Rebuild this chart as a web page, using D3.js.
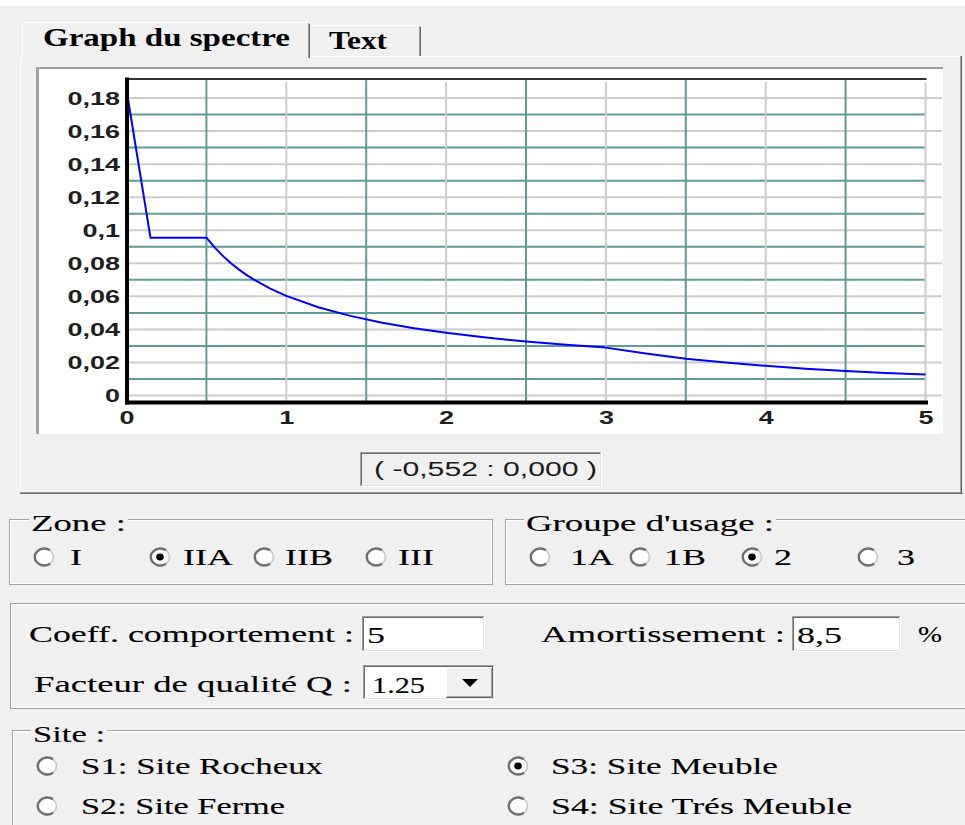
<!DOCTYPE html>
<html>
<head>
<meta charset="utf-8">
<script src="https://cdn.jsdelivr.net/npm/d3@7"></script>
<style>
  html, body { margin: 0; padding: 0; background: #f0f0f0; }
  svg { display: block; }
</style>
</head>
<body>
<script>
// ---------- DATA ----------
const periods  = [0, 0.15, 0.5, 0.55, 0.6, 0.65, 0.7, 0.75, 0.8, 0.9, 1.0, 1.2, 1.4, 1.6, 1.8, 2.0, 2.25, 2.5, 2.75, 3.0, 3.25, 3.5, 3.75, 4.0, 4.25, 4.5, 4.75, 5.0];
const spectrum = [0.185, 0.0955, 0.0955, 0.0898, 0.0848, 0.0803, 0.0765, 0.0730, 0.0700, 0.0647, 0.0603, 0.0534, 0.0482, 0.0441, 0.0407, 0.0380, 0.0351, 0.0327, 0.0307, 0.0290, 0.0254, 0.0222, 0.0200, 0.0180, 0.0162, 0.0148, 0.0136, 0.0127];
const xTicks = [0, 1, 2, 3, 4, 5];
const xTickLabels = ["0", "1", "2", "3", "4", "5"];
const xMinor = [0.5, 1.5, 2.5, 3.5, 4.5];
const yTicks = [0, 0.02, 0.04, 0.06, 0.08, 0.1, 0.12, 0.14, 0.16, 0.18];
const yTickLabels = ["0", "0,02", "0,04", "0,06", "0,08", "0,1", "0,12", "0,14", "0,16", "0,18"];
const yMinor = [0.01, 0.03, 0.05, 0.07, 0.09, 0.11, 0.13, 0.15, 0.17];
const tabLabels = ["Graph du spectre", "Text"];
const cursorLabel = "( -0,552 : 0,000 )";
const zoneOptions = ["I", "IIA", "IIB", "III"];
const zoneChecked = "IIA";
const groupOptions = ["1A", "1B", "2", "3"];
const groupChecked = "2";
const siteOptions = ["S1: Site Rocheux", "S3: Site Meuble", "S2: Site Ferme", "S4: Site Trés Meuble"];
const siteChecked = "S3: Site Meuble";

// ---------- helpers ----------
const W = 965, H = 825;
const svg = d3.select("body").append("svg").attr("width", W).attr("height", H);
const SERIF = "'Liberation Serif','Times New Roman',serif";
const SANS = "'Liberation Sans',Arial,sans-serif";
const K = 1.5;

function T(parent, x, y, str, o = {}) {
  const t = parent.append("text").attr("x", x).attr("y", y).text(str)
    .attr("font-family", o.family || SERIF)
    .attr("font-size", o.size || 24)
    .attr("font-weight", o.weight || "normal")
    .attr("fill", o.fill || "#000")
    .attr("stroke", o.fill || "#000").attr("stroke-width", o.sw === undefined ? 0.12 : o.sw);
  const w = t.node().getComputedTextLength();
  const target = o.w || w * (o.k || K);
  t.attr("textLength", target).attr("lengthAdjust", "spacingAndGlyphs");
  if (o.anchor === "end") t.attr("x", x - target);
  if (o.anchor === "middle") t.attr("x", x - target / 2);
  return t;
}
function line(g, x1, y1, x2, y2, c, w) {
  g.append("line").attr("x1", x1).attr("y1", y1).attr("x2", x2).attr("y2", y2)
    .attr("stroke", c).attr("stroke-width", w || 1);
}
function sunken(g, x, y, w, h, fill) {
  g.append("rect").attr("x", x).attr("y", y).attr("width", w).attr("height", h).attr("fill", fill);
  line(g, x, y + 0.5, x + w, y + 0.5, "#a0a0a0", 1);
  line(g, x + 0.5, y, x + 0.5, y + h, "#a0a0a0", 1);
  line(g, x + 1, y + 1.5, x + w - 1, y + 1.5, "#696969", 1);
  line(g, x + 1.5, y + 1, x + 1.5, y + h - 1, "#696969", 1);
  line(g, x, y + h - 0.5, x + w, y + h - 0.5, "#ffffff", 1);
  line(g, x + w - 0.5, y, x + w - 0.5, y + h, "#ffffff", 1);
  line(g, x + 1, y + h - 1.5, x + w - 1, y + h - 1.5, "#e3e3e3", 1);
  line(g, x + w - 1.5, y + 1, x + w - 1.5, y + h - 1, "#e3e3e3", 1);
}
function raised(g, x, y, w, h) {
  g.append("rect").attr("x", x).attr("y", y).attr("width", w).attr("height", h).attr("fill", "#f0f0f0");
  line(g, x, y + 0.5, x + w, y + 0.5, "#ffffff", 1);
  line(g, x + 0.5, y, x + 0.5, y + h, "#ffffff", 1);
  line(g, x, y + h - 0.5, x + w, y + h - 0.5, "#696969", 1);
  line(g, x + w - 0.5, y, x + w - 0.5, y + h, "#696969", 1);
  line(g, x + 1, y + h - 1.5, x + w - 1, y + h - 1.5, "#a0a0a0", 1);
  line(g, x + w - 1.5, y + 1, x + w - 1.5, y + h - 1, "#a0a0a0", 1);
}
function radio(g, cx, cy, checked) {
  g.append("ellipse").attr("cx", cx).attr("cy", cy).attr("rx", 9.5).attr("ry", 8.5)
    .attr("fill", "#fff").attr("stroke", "#c4c4c4").attr("stroke-width", 1.5);
  g.append("path")
    .attr("d", `M${cx + 6},${cy - 6.8} A9.5,8.5 0 1 0 ${cx + 6},${cy + 6.8}`)
    .attr("fill", "none").attr("stroke", "#707070").attr("stroke-width", 2.4);
  if (checked) g.append("ellipse").attr("cx", cx).attr("cy", cy).attr("rx", 3.8).attr("ry", 3.4).attr("fill", "#000");
}
function groupBox(g, x, y, w, h, title, tx, tw) {
  g.append("rect").attr("x", x + 0.5).attr("y", y + 0.5).attr("width", w).attr("height", h)
    .attr("fill", "none").attr("stroke", "#a0a0a0");
  g.append("rect").attr("x", x + 1.5).attr("y", y + 1.5).attr("width", w - 2).attr("height", h - 2)
    .attr("fill", "none").attr("stroke", "#ffffff");
  if (title) {
    g.append("rect").attr("x", tx - 2).attr("y", y - 4).attr("width", tw + 4).attr("height", 10).attr("fill", "#f0f0f0");
    T(g, tx, y + 12, title, { w: tw });
  }
}

// ---------- top strip ----------
svg.append("rect").attr("x", 0).attr("y", 0).attr("width", W).attr("height", 6).attr("fill", "#ffffff");

// ---------- tab control ----------
const tabs = svg.append("g");
tabs.append("rect").attr("x", 20).attr("y", 56).attr("width", 942).attr("height", 438).attr("fill", "#f0f0f0");
line(tabs, 20, 56.5, 962, 56.5, "#ffffff", 1);
line(tabs, 20.5, 56, 20.5, 494, "#ffffff", 1);
line(tabs, 20, 492.5, 962, 492.5, "#a0a0a0", 1);
line(tabs, 20, 493.5, 963, 493.5, "#696969", 1);
line(tabs, 960.5, 56, 960.5, 493, "#a0a0a0", 1);
line(tabs, 961.5, 56, 961.5, 494, "#696969", 1);
tabs.append("rect").attr("x", 310).attr("y", 25).attr("width", 111).attr("height", 31).attr("fill", "#f0f0f0");
line(tabs, 310, 25.5, 420, 25.5, "#ffffff", 1);
line(tabs, 419.5, 26, 419.5, 56, "#a0a0a0", 1);
line(tabs, 420.5, 27, 420.5, 56, "#696969", 1);
T(tabs, 329, 49, tabLabels[1], { weight: "bold", size: 25, w: 58, sw: 0 });
tabs.append("rect").attr("x", 22).attr("y", 22).attr("width", 288).attr("height", 36).attr("fill", "#f0f0f0");
line(tabs, 24, 22.5, 308, 22.5, "#ffffff", 1);
line(tabs, 22.5, 24, 22.5, 57, "#ffffff", 1);
line(tabs, 308.5, 23, 308.5, 58, "#a0a0a0", 1);
line(tabs, 309.5, 24, 309.5, 58, "#696969", 1);
T(tabs, 43, 46, tabLabels[0], { weight: "bold", size: 25, w: 247, sw: 0 });

// ---------- chart panel ----------
const panel = svg.append("g");
panel.append("rect").attr("x", 36).attr("y", 67).attr("width", 907).attr("height", 367).attr("fill", "#ffffff");
line(panel, 36, 68, 943, 68, "#a0a0a0", 2);
line(panel, 37.5, 67, 37.5, 434, "#a0a0a0", 3);

const x = d3.scaleLinear().domain([0, 5]).range([126.5, 925.5]);
const y = d3.scaleLinear().domain([-0.0039, 0.1915]).range([402, 79]);
const plot = panel.append("g");

const TEAL = "#5f9c98", GRID = "#cccccc";
plot.selectAll("line.hmaj").data(yTicks).join("line").attr("class", "hmaj")
  .attr("x1", x(0)).attr("x2", 942).attr("y1", d => y(d)).attr("y2", d => y(d))
  .attr("stroke", GRID).attr("stroke-width", 2);
plot.selectAll("line.hmin").data(yMinor).join("line").attr("class", "hmin")
  .attr("x1", x(0)).attr("x2", x(5)).attr("y1", d => y(d)).attr("y2", d => y(d))
  .attr("stroke", TEAL).attr("stroke-width", 2);
plot.selectAll("line.vmaj").data(xTicks.slice(1)).join("line").attr("class", "vmaj")
  .attr("x1", d => x(d)).attr("x2", d => x(d)).attr("y1", 82).attr("y2", y.range()[0])
  .attr("stroke", GRID).attr("stroke-width", 2);
plot.selectAll("line.vmin").data(xMinor).join("line").attr("class", "vmin")
  .attr("x1", d => x(d)).attr("x2", d => x(d)).attr("y1", 79).attr("y2", y.range()[0])
  .attr("stroke", TEAL).attr("stroke-width", 2);
line(plot, x(0), 79, x(5) + 1, 79, "#333333", 2);

plot.append("path").datum(periods.map((p, i) => [p, spectrum[i]]))
  .attr("fill", "none").attr("stroke", "#0000ff").attr("stroke-width", 2)
  .attr("stroke-linejoin", "round")
  .attr("d", d3.line().x(d => x(d[0])).y(d => y(d[1])));

const yAx = plot.append("g").attr("transform", `translate(${x(0)},0)`)
  .call(d3.axisLeft(y).tickValues(yTicks).tickSize(0).tickFormat((d, i) => yTickLabels[i]));
const xAx = plot.append("g").attr("transform", `translate(0,${y.range()[0]})`)
  .call(d3.axisBottom(x).tickValues(xTicks).tickSize(0).tickFormat((d, i) => xTickLabels[i]));
[yAx, xAx].forEach(a => {
  a.select(".domain").attr("stroke", "#000").attr("stroke-width", 4).attr("stroke-linecap", "square");
  a.selectAll(".tick line").remove();
  a.selectAll("text").attr("font-family", SANS).attr("font-size", 18).attr("font-weight", "bold").attr("fill", "#1e1e1e");
});
yAx.selectAll(".tick text").each(function () {
  const t = d3.select(this);
  const w = this.getComputedTextLength() * 1.5;
  t.attr("text-anchor", "start").attr("textLength", w).attr("lengthAdjust", "spacingAndGlyphs")
    .attr("x", -6.5 - w).attr("dy", "0.35em");
});
xAx.selectAll(".tick text").each(function () {
  const t = d3.select(this);
  const w = this.getComputedTextLength() * 1.5;
  t.attr("text-anchor", "start").attr("textLength", w).attr("lengthAdjust", "spacingAndGlyphs")
    .attr("x", -w / 2).attr("y", 9).attr("dy", "0.71em");
});

const rd = svg.append("g");
sunken(rd, 360, 452, 242, 35, "#f0f0f0");
T(rd, 374, 476, cursorLabel, { family: SANS, size: 20, w: 223, fill: "#1a1a1a", sw: 0 });

// ---------- Zone / Groupe d'usage ----------
const ctl = svg.append("g");
groupBox(ctl, 9, 519, 483, 65, "Zone :", 31, 95);
const zoneCx = [44, 160, 264, 376], zoneTx = [70, 183, 285, 398];
zoneOptions.forEach((z, i) => {
  radio(ctl, zoneCx[i], 557, z === zoneChecked);
  T(ctl, zoneTx[i], 565, z);
});
groupBox(ctl, 505, 519, 480, 65, "Groupe d'usage :", 526, 248);
const grpCx = [540, 640, 752, 868], grpTx = [570, 664, 774, 897];
groupOptions.forEach((z, i) => {
  radio(ctl, grpCx[i], 557, z === groupChecked);
  T(ctl, grpTx[i], 565, z);
});

// ---------- coefficients ----------
groupBox(ctl, 10, 603, 970, 105);
T(ctl, 29, 642, "Coeff. comportement :", { w: 325 });
sunken(ctl, 362, 616, 123, 36, "#ffffff");
T(ctl, 367, 643, "5");
T(ctl, 541, 642, "Amortissement :", { w: 244 });
sunken(ctl, 792, 616, 109, 36, "#ffffff");
T(ctl, 797, 643, "8,5");
T(ctl, 918, 642, "%", { w: 24 });
T(ctl, 34, 692, "Facteur de qualité Q :", { w: 318 });
sunken(ctl, 363, 665, 132, 35, "#ffffff");
T(ctl, 372, 693, "1.25", { w: 53 });
raised(ctl, 446, 667, 47, 31);
ctl.append("path").attr("d", "M462,679 L478,679 L470,687 Z").attr("fill", "#000");

// ---------- Site ----------
groupBox(ctl, 12, 730, 970, 110, "Site :", 33, 72);
const siteCx = [47, 518, 47, 518], siteCy = [766, 766, 806, 806], siteTx = [81, 551, 81, 551], siteW = [242, 227, 204, 301];
siteOptions.forEach((s, i) => {
  radio(ctl, siteCx[i], siteCy[i], s === siteChecked);
  T(ctl, siteTx[i], siteCy[i] + 8, s, { w: siteW[i] });
});
</script>
</body>
</html>
